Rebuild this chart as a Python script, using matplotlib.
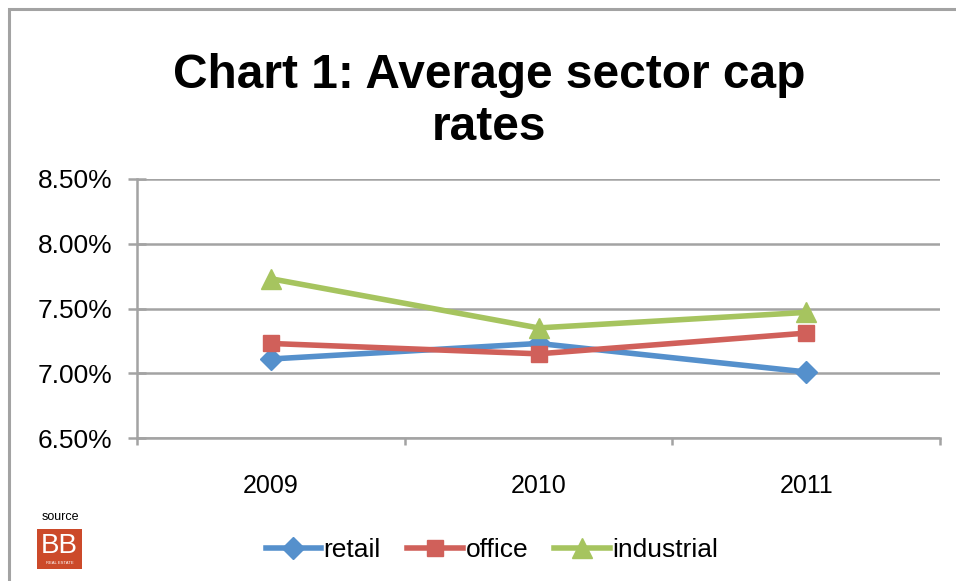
import matplotlib
matplotlib.use("Agg")
import matplotlib.pyplot as plt
from matplotlib.patches import Rectangle
from matplotlib.ticker import FuncFormatter, FixedLocator

plt.rcParams["font.family"] = ["Liberation Sans", "DejaVu Sans"]

# ── data ──────────────────────────────────────────────────────────────────────
years      = ["2009", "2010", "2011"]
retail     = [7.11, 7.23, 7.01]
office     = [7.23, 7.15, 7.31]
industrial = [7.73, 7.35, 7.47]
y_ticks    = [6.50, 7.00, 7.50, 8.00, 8.50]

BLUE  = "#5590CC"
RED   = "#D0605A"
GREEN = "#A6C45F"
GRID  = "#A3A3A3"

fig = plt.figure(figsize=(9.56, 5.81), dpi=100)

# outer chart border (runs off the right/bottom edge like the screenshot)
fig.patches.append(Rectangle((9 / 956, -0.05), 1.2, 1 - 9 / 581 + 0.05,
                             transform=fig.transFigure, fill=False,
                             ec=GRID, lw=2.2))

ax = fig.add_axes([137 / 956, 1 - 438 / 581, (940 - 137) / 956, (438 - 179) / 581])
x = list(range(len(years)))

ax.plot(x, retail, color=BLUE, lw=4, marker="D", ms=11, label="retail", zorder=3)
ax.plot(x, office, color=RED, lw=4, marker="s", ms=12, label="office", zorder=3)
ax.plot(x, industrial, color=GREEN, lw=4, marker="^", ms=14, label="industrial", zorder=3)

ax.set_xlim(-0.5, len(years) - 0.5)
ax.set_ylim(6.5, 8.5)
ax.set_yticks(y_ticks)
ax.yaxis.set_major_formatter(FuncFormatter(lambda v, p: f"{v:.2f}%"))
ax.grid(axis="y", color=GRID, lw=1.8)
ax.set_axisbelow(True)

# category labels in the middle, ticks between categories
ax.set_xticks(x)
ax.set_xticklabels(years)
ax.xaxis.set_minor_locator(FixedLocator([i - 0.5 for i in range(len(years) + 1)]))
ax.tick_params(axis="x", which="major", length=0, pad=26, labelsize=18)
ax.tick_params(axis="x", which="minor", length=5, width=1.8, color=GRID, direction="out")
ax.tick_params(axis="y", length=13, width=1.8, color=GRID, direction="inout", labelsize=19, pad=11)

for s in ["top", "right"]:
    ax.spines[s].set_visible(False)
for s in ["left", "bottom"]:
    ax.spines[s].set_color(GRID)
    ax.spines[s].set_linewidth(1.8)

fig.text(489 / 956, 1 - 102 / 581, "Chart 1: Average sector cap\nrates",
         ha="center", va="center", fontsize=34.5, fontweight="bold", linespacing=1.2)

ax.legend(loc="center", bbox_to_anchor=(492 / 956, 1 - 550 / 581),
          bbox_transform=fig.transFigure, ncol=3, frameon=False, fontsize=19,
          handlelength=2.1, handletextpad=0.1, columnspacing=1.0, borderpad=0)

# source logo
fig.text(60 / 956, 1 - 517 / 581, "source", ha="center", va="center", fontsize=9)
logo = fig.add_axes([37 / 956, 1 - 569 / 581, 45 / 956, 40 / 581])
logo.set_axis_off()
logo.add_patch(Rectangle((0, 0), 1, 1, color="#CC4A2A"))
logo.text(0.5, 0.58, "BB", color="white", ha="center", va="center", fontsize=20,
          fontweight="light")
logo.text(0.5, 0.14, "REAL ESTATE", color="white", ha="center", va="center", fontsize=3)
logo.set_xlim(0, 1)
logo.set_ylim(0, 1)

fig.savefig("out.png", dpi=100)
